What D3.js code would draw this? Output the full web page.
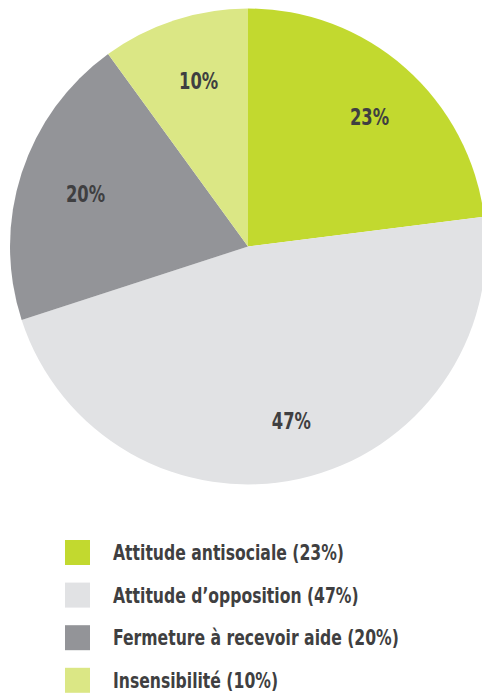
<!DOCTYPE html>
<html>
<head>
<meta charset="utf-8">
<script src="https://cdn.jsdelivr.net/npm/d3@7"></script>
<style>
    body { margin: 0; background: #fff; }
    svg { display: block; }
    text { font-family: "DejaVu Sans Condensed", "DejaVu Sans", sans-serif; font-weight: bold; fill: #3f3f41; }
</style>
</head>
<body>
<svg id="chart" width="482" height="694"></svg>
<script>
const categories = ["Attitude antisociale", "Attitude d’opposition", "Fermeture à recevoir aide", "Insensibilité"];
const values = [23, 47, 20, 10];
const colors = ["#c2d92f", "#e1e2e4", "#939498", "#dbe785"];

document.addEventListener("DOMContentLoaded", () => {
    const svg = d3.select("#chart");
    const cx = 248, cy = 246.5, radius = 238;
    const squeeze = 0.79; // the original font is a narrow one

    const data = categories.map((c, i) => ({ name: c, value: values[i], color: colors[i] }));
    const pie = d3.pie().value(d => d.value).sort(null);
    const arc = d3.arc().innerRadius(0).outerRadius(radius);
    const labelArc = d3.arc().innerRadius(radius * 0.74).outerRadius(radius * 0.74);

    const g = svg.append("g").attr("transform", `translate(${cx},${cy})`);
    const arcs = pie(data);

    g.selectAll("path")
        .data(arcs)
        .enter()
        .append("path")
        .attr("d", arc)
        .style("fill", d => d.data.color);

    g.selectAll("text.label")
        .data(arcs)
        .enter()
        .append("text")
        .attr("class", "label")
        .attr("transform", d => {
            const [x, y] = labelArc.centroid(d);
            return `translate(${x + 5},${y + 2}) scale(${squeeze},1)`;
        })
        .attr("text-anchor", "middle")
        .attr("dy", "0.36em")
        .style("font-size", "23px")
        .text(d => d.data.value + "%");

    const legend = svg.append("g").attr("transform", "translate(65, 540)");
    const row = legend.selectAll("g")
        .data(data)
        .enter()
        .append("g")
        .attr("transform", (d, i) => `translate(0, ${i * 42.6})`);
    row.append("rect")
        .attr("width", 25)
        .attr("height", 25)
        .style("fill", d => d.color);
    row.append("text")
        .attr("transform", `translate(48, 12.5) scale(${squeeze},1)`)
        .attr("dy", "0.34em")
        .style("font-size", "22px")
        .text(d => `${d.name} (${d.value}%)`);
});
</script>
</body>
</html>
